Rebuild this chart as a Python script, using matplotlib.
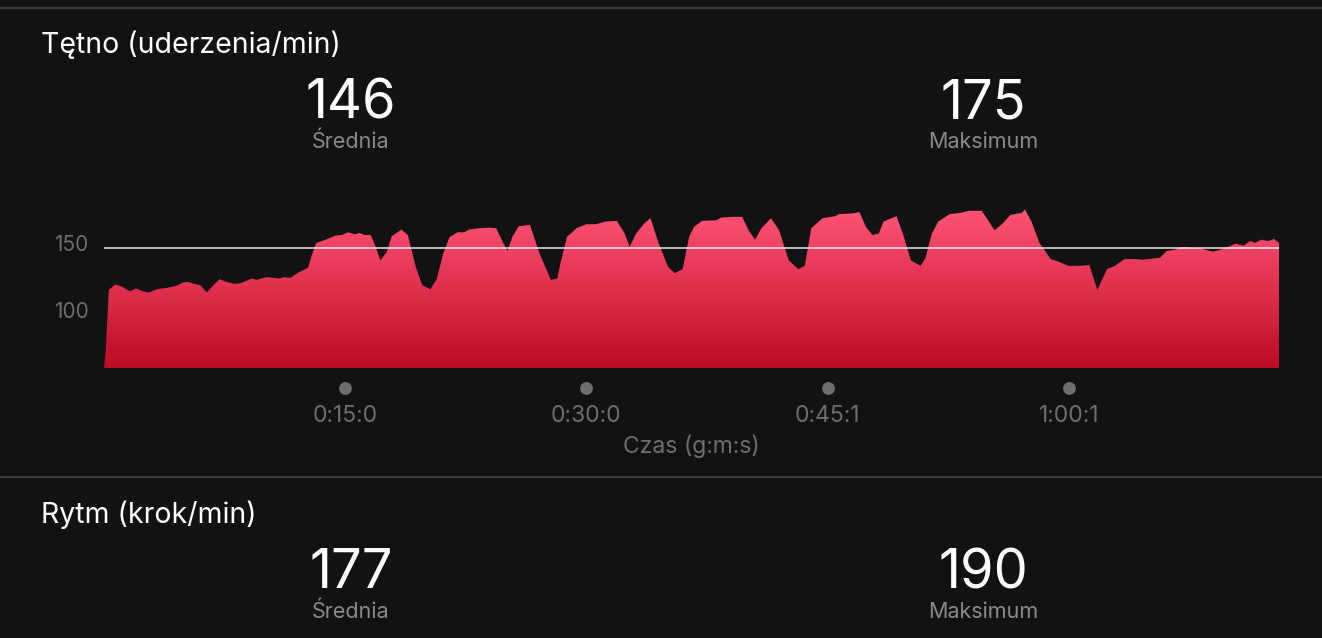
import numpy as np
import matplotlib.pyplot as plt
from matplotlib.patches import Polygon
from matplotlib.colors import LinearSegmentedColormap
import matplotlib.transforms as mtransforms

plt.rcParams['font.family'] = ['Inter', 'DejaVu Sans']

# heart rate trace (minutes, beats per minute)
czas = [0.0, 0.1, 0.3, 0.7, 1.1, 1.6, 2.0, 2.4, 2.8, 3.3, 3.9, 4.5, 4.9, 5.2, 5.6, 6.0,
        6.4, 6.8, 7.2, 7.6, 8.1, 8.5, 9.2, 9.5, 10.1, 10.5, 10.9, 11.2, 11.6, 12.1, 12.7,
        12.9, 13.2, 13.8, 14.4, 14.8, 15.2, 15.6, 15.9, 16.2, 16.6, 16.9, 17.2, 17.6, 17.9,
        18.5, 18.9, 19.4, 19.8, 20.3, 20.7, 21.1, 21.5, 22.0, 22.4, 22.7, 23.3, 24.0, 24.4,
        24.8, 25.1, 25.4, 25.8, 26.5, 27.1, 27.8, 28.2, 28.4, 28.8, 29.4, 30.0, 30.6, 31.2,
        31.9, 32.4, 32.7, 33.1, 33.6, 34.0, 34.5, 35.1, 35.5, 36.0, 36.4, 36.7, 37.2, 38.1,
        38.4, 39.1, 39.7, 40.1, 40.5, 40.9, 41.5, 42.0, 42.6, 43.2, 43.6, 44.0, 44.7, 45.5,
        45.7, 46.5, 47.0, 47.4, 47.8, 48.2, 48.5, 49.3, 49.7, 50.2, 50.8, 51.1, 51.5, 51.9,
        52.6, 53.3, 53.8, 54.6, 55.0, 55.4, 55.9, 56.4, 57.1, 57.3, 57.7, 58.2, 58.9, 59.4,
        60.0, 60.7, 61.3, 61.8, 62.4, 62.9, 63.5, 64.2, 64.6, 65.7, 66.1, 66.6, 67.1, 68.2,
        69.0, 69.6, 70.4, 70.9, 71.3, 71.6, 72.0, 72.4, 72.8, 73.1]
tetno = [57, 68, 115, 119, 117.5, 114, 116, 114, 113, 115.5, 116.5, 118, 120.5, 121, 119.5, 118.5,
         113, 118.5, 123, 121, 119.5, 120, 123.5, 122.5, 124.5, 124, 123.5, 124.5, 124, 128, 131.5,
         140, 150, 152.5, 155.5, 156, 158, 156.5, 157.5, 156, 156, 147, 137, 143.5, 155,
         160, 156, 132, 118.5, 115.5, 123, 142, 154.5, 158, 158, 160, 161, 161.5, 161,
         151, 144, 154.5, 162.5, 163.5, 142, 122.5, 123.5, 135, 154.5, 161, 164, 164, 166,
         166.5, 157, 147, 157, 164.5, 168.5, 150, 132, 127.5, 130.5, 154.5, 162, 166.5, 167,
         169, 169.5, 169.5, 159.5, 152.5, 161, 168.5, 159.5, 137, 130.5, 133, 161, 168.5, 170,
         171.5, 172, 173, 162, 156, 157, 166, 170, 157, 137, 133, 138.5, 157, 166,
         171.5, 172.5, 174, 174, 167, 159.5, 164.5, 171, 172.5, 175, 166, 150, 138, 136,
         133, 133, 133.5, 115, 130.5, 133, 138, 138, 137.5, 139, 144, 145, 147, 146,
         143.5, 145.5, 149.5, 148, 151.5, 150, 152.5, 151.5, 153, 150]

srednia_hr = 146
maks_hr = 175
srednia_rytm = 177
maks_rytm = 190
y_ticks = [100, 150]
x_ticks = [15, 30, 45 + 1 / 60, 60 + 1 / 60]
x_labels = ['0:15:0', '0:30:0', '0:45:1', '1:00:1']

W, H = 1322, 638
bg = '#121212'
fig = plt.figure(figsize=(W / 100, H / 100), dpi=100, facecolor=bg)

def fx(px):
    return px / W

def fy(py):
    return 1 - py / H

# separators
for yy in [8, 477]:
    fig.add_artist(plt.Line2D([0, 1], [fy(yy), fy(yy)], color='#454545', lw=1.2))

def stat_block(y_title, title, y_num, avg, mx):
    fig.text(fx(41), fy(y_title), title, color='white', fontsize=20.5, va='baseline', ha='left')
    for xc, val, lab in [(351, avg, 'Średnia'), (983, mx, 'Maksimum')]:
        fig.text(fx(xc), fy(y_num), str(val), color='white', fontsize=39, va='baseline', ha='center')
        fig.text(fx(xc), fy(y_num + 29.5), lab, color='#8a8a8a', fontsize=15.5, va='baseline', ha='center')

stat_block(53.3, 'Tętno (uderzenia/min)', 118.3, srednia_hr, maks_hr)
stat_block(523.3, 'Rytm (krok/min)', 588.3, srednia_rytm, maks_rytm)

# chart axes
left, right, top, bottom = 104, 1279, 200, 368
ax = fig.add_axes([fx(left), fy(bottom), (right - left) / W, (bottom - top) / H])
ax.set_facecolor(bg)
ppb = 1.34  # pixels per bpm
ymin = 100 - (bottom - 310) / ppb
ymax = 150 + (243 - top) / ppb
ax.set_ylim(ymin, ymax)
ax.set_xlim(0, czas[-1])
for s in ax.spines.values():
    s.set_visible(False)

verts = [(czas[0], ymin)] + list(zip(czas, tetno)) + [(czas[-1], ymin)]
poly = Polygon(verts, closed=True, facecolor='none', edgecolor='none')
ax.add_patch(poly)
grad = np.linspace(0, 1, 256).reshape(-1, 1)
cmap = LinearSegmentedColormap.from_list('hr', ['#bb0c22', '#e0304e', '#ff5476'])
im = ax.imshow(grad, cmap=cmap, aspect='auto', origin='lower',
               extent=[0, czas[-1], ymin, 176], zorder=2)
im.set_clip_path(poly)

ax.axhline(srednia_hr, color='white', lw=1.1, alpha=0.9, zorder=3)

ax.set_yticks(y_ticks)
ax.set_yticklabels([str(v) for v in y_ticks])
ax.tick_params(axis='y', length=0, pad=11, labelsize=15, labelcolor='#6e6e6e')
ax.set_xticks(x_ticks)
ax.set_xticklabels(x_labels)
ax.tick_params(axis='x', length=0, pad=(421.7 - bottom) * 0.72, labelsize=16.5, labelcolor='#6e6e6e')
for lbl in ax.get_xticklabels():
    lbl.set_verticalalignment('baseline')

trans = mtransforms.blended_transform_factory(ax.transData, ax.transAxes)
dot_y = -(387.7 - bottom) / (bottom - top)
ax.scatter(x_ticks, [dot_y] * len(x_ticks), s=85, color='#6e6e6e', transform=trans,
           clip_on=False, zorder=4, linewidths=0)

fig.text(fx(691), fy(453.3), 'Czas (g:m:s)', color='#6e6e6e', fontsize=16.5, va='baseline', ha='center')

fig.savefig('out.png', dpi=100, facecolor=bg)
